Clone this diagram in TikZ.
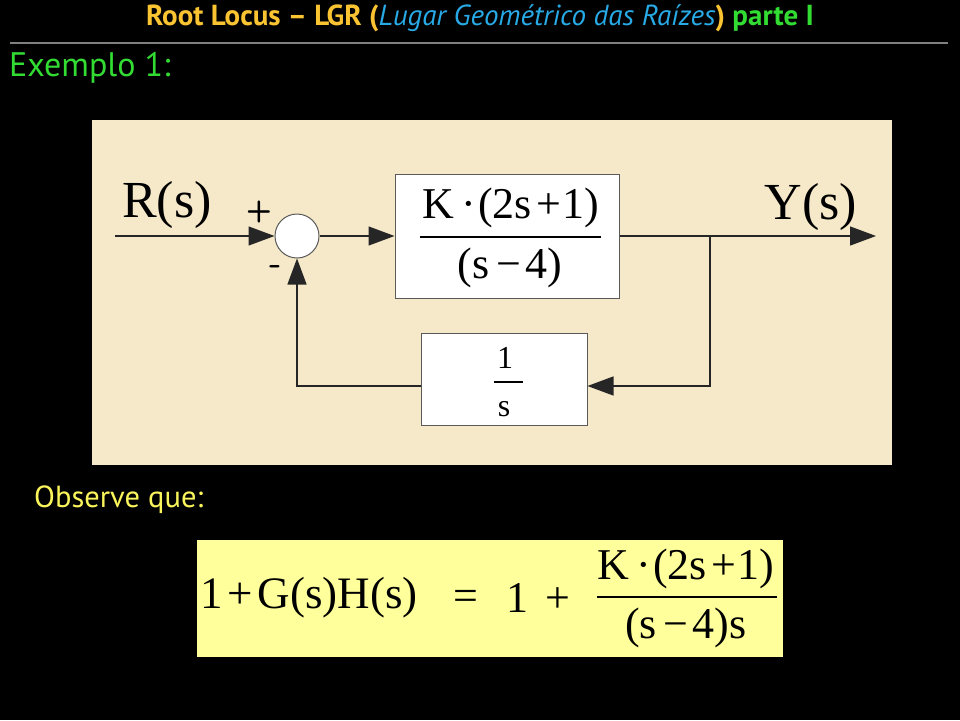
\documentclass[tikz,border=0pt]{standalone}
\usepackage{fontspec}
\setmainfont{Liberation Serif}
\newfontfamily\ttl{PT Sans}
\usetikzlibrary{arrows.meta}
\definecolor{beige}{RGB}{246,233,202}
\definecolor{ttlorange}{RGB}{250,195,50}
\definecolor{ttlblue}{RGB}{40,170,230}
\definecolor{ttlgreen}{RGB}{50,220,50}
\definecolor{obsyellow}{RGB}{250,245,90}
\definecolor{fyellow}{RGB}{255,255,155}
\definecolor{edgegray}{RGB}{90,90,90}
\tikzset{
  blk/.style={draw=edgegray, fill=white, line width=1pt, inner sep=0pt},
  sig/.style={line width=1.3pt, draw=black!85},
  arr/.style={sig, -{Triangle[length=26pt,width=19pt]}},
  txt/.style={inner sep=0pt, font=\fontsize{44}{48}\selectfont},
  bar/.style={line width=1.2pt},
}
\begin{document}
\begin{tikzpicture}[x=1pt,y=-1pt]
\useasboundingbox (0,0) rectangle (960,720);
\fill[black] (0,0) rectangle (960,720);
% title
\node[inner sep=0pt, font=\ttl\fontsize{29}{32}\selectfont] (title) at (480,18)
  {\bfseries\color{ttlorange}Root Locus – LGR (\mdseries\itshape\color{ttlblue}Lugar Geométrico das Raízes\upshape\bfseries\color{ttlorange}) \color{ttlgreen}parte I};
\draw[gray, line width=1.5pt] (10,43) -- (948,43);
\node[anchor=west, inner sep=0pt, font=\ttl\fontsize{34}{36}\selectfont, text=ttlgreen] (ex) at (9,68) {Exemplo 1:};
% panel
\fill[beige] (92,120) rectangle (892,465);
% blocks
\node[blk, minimum width=224pt, minimum height=124pt] (g) at (507,236) {};
\node[blk, minimum width=166pt, minimum height=92pt] (h) at (504,379) {};
\node[blk, circle, minimum size=44pt] (sum) at (297,236) {};
% texts in blocks
\node[txt] (gnum) at (511,208) {K\hspace{0.15em}·\hspace{0.05em}(2s\hspace{0.1em}+\hspace{0.03em}1)};
\node[txt] (gden) at (510,268) {(s\hspace{0.15em}−\hspace{0.1em}4)};
\draw[bar] (420,237) -- (601,237);
\node[txt, font=\fontsize{32}{34}\selectfont] (hnum) at (505,358) {1};
\node[txt, font=\fontsize{32}{34}\selectfont] (hden) at (504,409) {s};
\draw[bar] (494,382) -- (523,382);
% signal labels
\node[txt, font=\fontsize{52}{56}\selectfont] (R) at (167,205) {R(s)};
\node[txt, font=\fontsize{52}{56}\selectfont] (Y) at (811,207) {Y(s)};
\node[inner sep=0pt, font=\fontsize{30}{32}\selectfont\bfseries\sffamily] (plus) at (259,212) {+};
\node[inner sep=0pt, font=\fontsize{34}{36}\selectfont\bfseries\sffamily] (minus) at (276,270) {-};
% connectors
\coordinate (in) at (115,236);
\coordinate (out) at (876,236);
\coordinate (br) at (710,236);
\draw[arr] (in) -- (sum.west);
\draw[arr] (sum.east) -- (g.west);
\draw[arr] (g.east) -- (out);
\draw[arr] (br) |- ([yshift=-7pt]h.east);
\draw[arr] ([yshift=-7pt]h.west) -| (sum.south);
% observe
\node[anchor=west, inner sep=0pt, font=\ttl\fontsize{30.5}{33}\selectfont, text=obsyellow] (obs) at (34,500) {Observe que:};
% formula
\node[fill=fyellow, minimum width=586pt, minimum height=117pt, inner sep=0pt] (fbox) at (490,598.5) {};
\node[txt, font=\fontsize{45}{48}\selectfont] (lhs) at (309,598) {1\hspace{0.11em}+\hspace{0.11em}G(s)H(s)};
\node[txt] (eq) at (466,600) {=};
\node[txt] (one) at (517,598) {1};
\node[txt] (pl) at (558,600) {+};
\node[txt] (fnum) at (686,569) {K\hspace{0.15em}·\hspace{0.05em}(2s\hspace{0.1em}+\hspace{0.03em}1)};
\node[txt] (fden) at (686,628) {(s\hspace{0.15em}−\hspace{0.1em}4)s};
\draw[bar] (597,597) -- (777,597);
\end{tikzpicture}
\end{document}
